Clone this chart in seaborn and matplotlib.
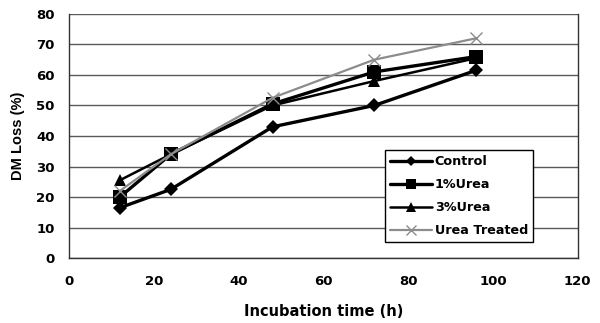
import numpy as np
import pandas as pd
import matplotlib
matplotlib.use("Agg")
import matplotlib.pyplot as plt
import seaborn as sns

hours = [12, 24, 48, 72, 96]
control = [16.5, 22.5, 43.0, 50.0, 61.5]
urea_1 = [20.0, 34.0, 50.5, 61.0, 66.0]
urea_3 = [25.5, 34.0, 50.0, 58.0, 65.5]
urea_treated = [22.0, 34.0, 52.5, 65.0, 72.0]

series_names = ["Control", "1%Urea", "3%Urea", "Urea Treated"]
series_values = [control, urea_1, urea_3, urea_treated]

sns.set_style("white")
plt.rcParams["font.family"] = ["DejaVu Sans"]
plt.rcParams["text.color"] = "black"
plt.rcParams["axes.labelcolor"] = "black"
plt.rcParams["xtick.color"] = "black"
plt.rcParams["ytick.color"] = "black"

df = pd.DataFrame({
    "hours": hours * len(series_names),
    "loss": sum(series_values, []),
    "series": np.repeat(series_names, len(hours)),
})

fig = plt.figure(figsize=(6.0, 3.23), dpi=100)
ax = fig.add_axes([0.115, 0.201, 0.848, 0.756])

styles = {
    "Control": dict(color="black", marker="D", ms=7, lw=2.4, mew=0),
    "1%Urea": dict(color="black", marker="s", ms=9.5, lw=2.4, mew=0),
    "3%Urea": dict(color="black", marker="^", ms=9, lw=1.8, mew=0),
    "Urea Treated": dict(color="#8c8c8c", marker="x", ms=9, lw=1.6, mew=1.0),
}

for name in series_names:
    sub = df[df["series"] == name]
    st = styles[name]
    sns.lineplot(data=sub, x="hours", y="loss", ax=ax, label=name,
                 color=st["color"], marker=st["marker"], markersize=st["ms"],
                 linewidth=st["lw"], markeredgewidth=st["mew"],
                 markeredgecolor=st["color"])

ax.set_xlim(0, 120)
ax.set_ylim(0, 80)
ax.set_xticks(range(0, 121, 20))
ax.set_yticks(range(0, 81, 10))
ax.yaxis.grid(True, color="#5a5a5a", linewidth=1.0)
ax.set_axisbelow(True)
for side in ["left", "bottom", "right"]:
    ax.spines[side].set_color("#333333")
    ax.spines[side].set_linewidth(1.0)
ax.spines["top"].set_visible(False)
ax.tick_params(axis="x", direction="out", length=3.5, width=1, color="#333333",
               labelsize=9.5, pad=9, labelcolor="black")
ax.tick_params(axis="y", direction="out", length=2.2, width=1, color="#333333",
               labelsize=9.5, pad=8, labelcolor="black")
for lab in ax.get_xticklabels() + ax.get_yticklabels():
    lab.set_fontweight("bold")

ax.set_xlabel("Incubation time (h)", fontsize=10.5, fontweight="bold", labelpad=11)
ax.set_ylabel("DM Loss (%)", fontsize=10.5, fontweight="bold", labelpad=8,
              family="Liberation Sans")

leg = ax.legend(loc="upper left", bbox_to_anchor=(385 / 600, 1 - 150 / 323),
                bbox_transform=fig.transFigure, borderaxespad=0,
                frameon=True, fancybox=False, edgecolor="black", framealpha=1,
                fontsize=9.2, handlelength=3.3, borderpad=0.4,
                labelspacing=0.78, handletextpad=0.2, markerscale=0.8)
leg.get_frame().set_linewidth(1.0)
for t in leg.get_texts():
    t.set_fontweight("bold")

fig.savefig("out.png", dpi=100)
